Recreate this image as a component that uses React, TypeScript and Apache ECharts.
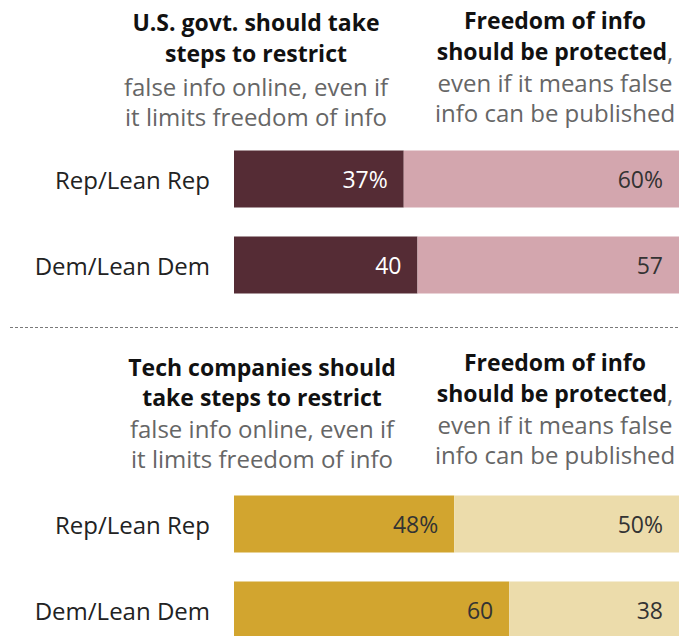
import React, { useEffect, useRef } from "react";
import * as echarts from "echarts";

const categories = ["Rep/Lean Rep", "Dem/Lean Dem"];
const govtRestrict = [37, 40];
const govtFreedom = [60, 57];
const techRestrict = [48, 60];
const techFreedom = [50, 38];

const topLeftBold = ["U.S. govt. should take", "steps to restrict"];
const topLeftReg = ["false info online, even if", "it limits freedom of info"];
const botLeftBold = ["Tech companies should", "take steps to restrict"];
const rightBold = ["Freedom of info", "should be protected"];
const rightReg = ["even if it means false", "info can be published"];

const FONT = "'Open Sans', 'Noto Sans', sans-serif";
const FS_BOLD = 23;
const FS_REG = 24;
const FS_CAT = 24;
const FS_LBL = 23;

export default function App() {
  const ref = useRef<HTMLDivElement>(null);
  useEffect(() => {
    if (!ref.current) return;
    const chart = echarts.init(ref.current, null, { renderer: "svg" });

    const fmt = (p: any) => (p.dataIndex === 0 ? `${p.value}%` : `${p.value}`);

    const mkText = (x: number, y: number, text: string, bold: boolean) => ({
      type: "text",
      x,
      y,
      style: {
        text,
        fill: bold ? "#111" : "#666",
        font: `${bold ? "bold " : ""}${bold ? FS_BOLD : FS_REG}px ${FONT}`,
        align: "center",
        verticalAlign: "middle",
      },
    });

    const mkRich = (x: number, y: number) => ({
      type: "text",
      x,
      y,
      style: {
        text: `{b|${rightBold[1]}}{r|,}`,
        align: "center",
        verticalAlign: "middle",
        rich: {
          b: { fontFamily: FONT, fontSize: FS_BOLD, fontWeight: "bold", fill: "#111", color: "#111" },
          r: { fontFamily: FONT, fontSize: FS_REG, fill: "#666", color: "#666" },
        },
      },
    });

    const graphics: any[] = [
      mkText(256, 22, topLeftBold[0], true),
      mkText(256, 53, topLeftBold[1], true),
      mkText(256, 86, topLeftReg[0], false),
      mkText(256, 116, topLeftReg[1], false),
      mkText(555, 20, rightBold[0], true),
      mkRich(555, 51),
      mkText(555, 82, rightReg[0], false),
      mkText(555, 112, rightReg[1], false),
      mkText(262, 367, botLeftBold[0], true),
      mkText(262, 397, botLeftBold[1], true),
      mkText(262, 428, topLeftReg[0], false),
      mkText(262, 458, topLeftReg[1], false),
      mkText(555, 362, rightBold[0], true),
      mkRich(555, 393),
      mkText(555, 424, rightReg[0], false),
      mkText(555, 454, rightReg[1], false),
      {
        type: "line",
        shape: { x1: 10, y1: 327.5, x2: 679, y2: 327.5 },
        style: { stroke: "#7a7a7a", lineWidth: 1, lineDash: [3, 2] },
      },
    ];

    const yAxisBase = {
      type: "category",
      data: categories,
      inverse: true,
      axisLine: { show: false },
      axisTick: { show: false },
      axisLabel: { color: "#222", fontSize: FS_CAT, fontFamily: FONT, margin: 24 },
    };
    const xAxisBase = {
      type: "value",
      min: 0,
      max: 97,
      show: false,
      splitLine: { show: false },
    };
    const barBase = (
      name: string,
      data: number[],
      color: string,
      labelColor: string,
      idx: number,
      stack: string
    ) => ({
      name,
      type: "bar",
      stack,
      data,
      xAxisIndex: idx,
      yAxisIndex: idx,
      barWidth: 57,
      clip: true,
      itemStyle: { color },
      label: {
        show: true,
        position: "insideRight",
        distance: 16,
        color: labelColor,
        fontSize: FS_LBL,
        fontFamily: FONT,
        formatter: fmt,
      },
    });

    chart.setOption({
      animation: false,
      backgroundColor: "#ffffff",
      grid: [
        { left: 234, right: 0, top: 136, height: 172 },
        { left: 234, right: 0, top: 481, height: 172 },
      ],
      xAxis: [
        { ...xAxisBase, gridIndex: 0 },
        { ...xAxisBase, gridIndex: 1 },
      ],
      yAxis: [
        { ...yAxisBase, gridIndex: 0 },
        { ...yAxisBase, gridIndex: 1 },
      ],
      series: [
        barBase("govt restrict", govtRestrict, "#552c35", "#ffffff", 0, "a"),
        barBase("govt freedom", govtFreedom, "#d3a6ae", "#333333", 0, "a"),
        barBase("tech restrict", techRestrict, "#d2a52f", "#333333", 1, "b"),
        barBase("tech freedom", techFreedom, "#ecdcab", "#333333", 1, "b"),
      ],
      graphic: graphics,
    });
    return () => chart.dispose();
  }, []);

  return (
    <div
      style={{
        position: "fixed",
        left: 0,
        top: 0,
        width: 679,
        height: 636,
        overflow: "hidden",
        background: "#fff",
      }}
    >
      <div ref={ref} style={{ width: 679, height: 680 }} />
    </div>
  );
}
